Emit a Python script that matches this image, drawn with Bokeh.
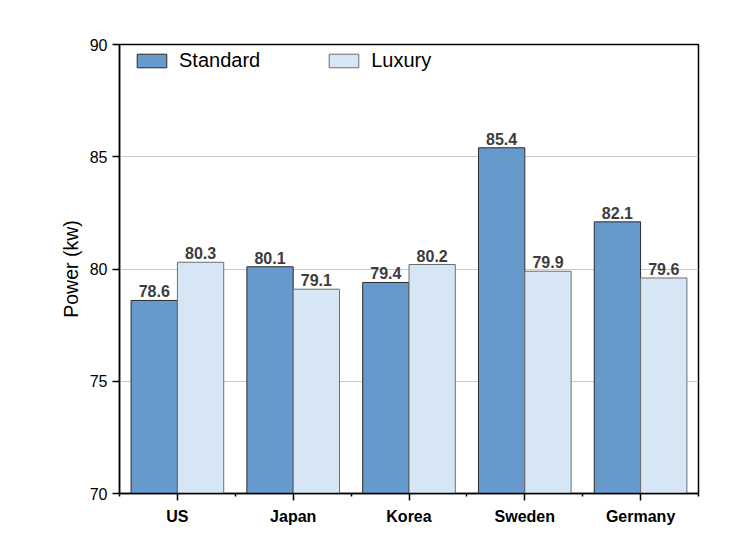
from bokeh.plotting import figure
from bokeh.models import (Range1d, FixedTicker, Legend, LegendItem,
                          ColumnDataSource)
from bokeh.transform import dodge
from bokeh.core.properties import value
from bokeh.embed import file_html
from bokeh.resources import INLINE

categories = ["US", "Japan", "Korea", "Sweden", "Germany"]
standard = [78.6, 80.1, 79.4, 85.4, 82.1]
luxury = [80.3, 79.1, 80.2, 79.9, 79.6]
y_ticks = [70, 75, 80, 85, 90]

FONT = "Liberation Sans"
STD_COLOR = "#6699cc"
LUX_COLOR = "#d6e6f5"

centers = [i + 0.5 for i in range(len(categories))]
bounds = list(range(len(categories) + 1))

src = ColumnDataSource(dict(
    x=centers, cat=categories, standard=standard, luxury=luxury,
    standard_lbl=[f"{v:.1f}" for v in standard],
    luxury_lbl=[f"{v:.1f}" for v in luxury],
))

p = figure(width=741, height=541, output_backend="svg", toolbar_location=None,
           x_range=Range1d(0, len(categories)),
           y_range=Range1d(y_ticks[0], y_ticks[-1]),
           min_border_left=119, min_border_right=43,
           min_border_top=44, min_border_bottom=48)

p.background_fill_color = "white"
p.border_fill_color = "white"
p.outline_line_color = "black"
p.outline_line_width = 1.5

bw = 0.4
r_std = p.vbar(x=dodge("x", -bw / 2, range=p.x_range), top="standard", bottom=0,
               width=bw, source=src, fill_color=STD_COLOR,
               line_color="#2b2b2b", line_width=1)
r_lux = p.vbar(x=dodge("x", bw / 2, range=p.x_range), top="luxury", bottom=0,
               width=bw, source=src, fill_color=LUX_COLOR,
               line_color="#6e6e6e", line_width=1)

for col, off in (("standard", -bw / 2), ("luxury", bw / 2)):
    p.text(x=dodge("x", off, range=p.x_range), y=col, text=col + "_lbl",
           source=src, text_align="center", text_baseline="bottom",
           y_offset=-3, text_font=value(FONT), text_font_style="bold",
           text_font_size="16px", text_color="#3c3c3c")

# x axis
xa = p.xaxis[0]
xa.ticker = FixedTicker(ticks=centers, minor_ticks=bounds)
xa.major_label_overrides = {c: n for c, n in zip(centers, categories)}
xa.major_tick_out = 7
xa.major_tick_in = 0
xa.minor_tick_out = 3
xa.minor_tick_in = 0
xa.axis_line_width = 1.5
xa.major_tick_line_width = 1.5
xa.minor_tick_line_width = 1.5
xa.major_label_standoff = 7
xa.major_label_text_font = FONT
xa.major_label_text_font_style = "bold"
xa.major_label_text_font_size = "16px"
xa.major_label_text_color = "black"

# y axis
ya = p.yaxis[0]
ya.ticker = FixedTicker(ticks=y_ticks, minor_ticks=[])
ya.major_tick_out = 7
ya.major_tick_in = 0
ya.axis_line_width = 1.5
ya.major_tick_line_width = 1.5
ya.major_label_standoff = 5
ya.major_label_text_font = FONT
ya.major_label_text_font_size = "16px"
ya.major_label_text_color = "black"
ya.axis_label = "Power (kw)"
ya.axis_label_text_font = FONT
ya.axis_label_text_font_size = "19.5px"
ya.axis_label_text_font_style = "normal"
ya.axis_label_text_color = "black"
ya.axis_label_standoff = 5

p.xgrid.visible = False
p.ygrid.ticker = FixedTicker(ticks=y_ticks[1:-1])
p.ygrid.grid_line_color = "#c8c8c8"
p.ygrid.grid_line_width = 1

legend = Legend(items=[LegendItem(label="Standard", renderers=[r_std]),
                       LegendItem(label="Luxury", renderers=[r_lux])],
                orientation="horizontal", location=(14, 421),
                border_line_color=None, background_fill_alpha=0,
                glyph_width=37, glyph_height=17, label_height=17,
                label_standoff=9, spacing=65, padding=0, margin=0,
                label_text_font=FONT, label_text_font_size="20px",
                label_text_color="black")
p.add_layout(legend, "center")

open("out.html", "w").write(file_html(p, INLINE))
